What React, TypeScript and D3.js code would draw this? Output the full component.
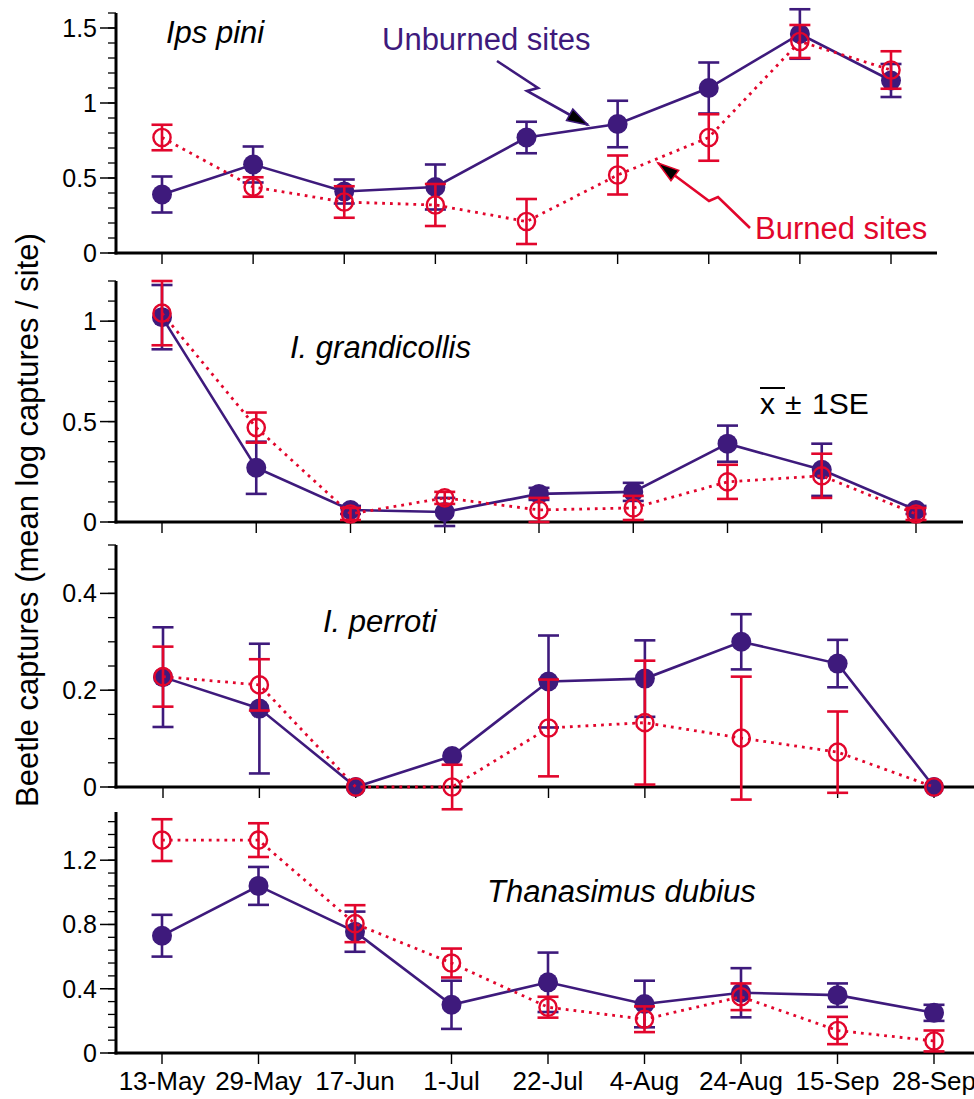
import React from 'react'
import * as d3 from 'd3'

// sampling dates (x categories)
const dates = ['13-May', '29-May', '17-Jun', '1-Jul', '22-Jul', '4-Aug', '24-Aug', '15-Sep', '28-Sep']

// Ips pini
const ipsUnburned = [0.39, 0.59, 0.41, 0.44, 0.77, 0.86, 1.1, 1.46, 1.15]
const ipsUnburnedSE = [0.12, 0.12, 0.08, 0.15, 0.105, 0.155, 0.17, 0.165, 0.11]
const ipsBurned = [0.77, 0.44, 0.34, 0.32, 0.21, 0.52, 0.77, 1.41, 1.22]
const ipsBurnedSE = [0.085, 0.065, 0.105, 0.14, 0.15, 0.13, 0.155, 0.11, 0.125]
const ipsTicks = [0, 0.5, 1, 1.5]

// I. grandicollis
const grandUnburned = [1.02, 0.27, 0.06, 0.05, 0.14, 0.15, 0.39, 0.26, 0.06]
const grandUnburnedSE = [0.16, 0.13, 0.02, 0.07, 0.03, 0.045, 0.09, 0.13, 0.02]
const grandBurned = [1.04, 0.47, 0.04, 0.12, 0.06, 0.07, 0.2, 0.23, 0.04]
const grandBurnedSE = [0.16, 0.075, 0.03, 0.03, 0.06, 0.06, 0.085, 0.11, 0.03]
const grandTicks = [0, 0.5, 1]

// I. perroti
const perrUnburned = [0.227, 0.162, 0, 0.064, 0.218, 0.224, 0.3, 0.255, 0]
const perrUnburnedSE = [0.103, 0.134, 0, 0, 0.095, 0.079, 0.057, 0.049, 0]
const perrBurned = [0.228, 0.211, 0, 0, 0.122, 0.133, 0.101, 0.072, 0]
const perrBurnedSE = [0.062, 0.053, 0, 0.046, 0.1, 0.128, 0.127, 0.084, 0]
const perrTicks = [0, 0.2, 0.4]

// Thanasimus dubius
const thanUnburned = [0.73, 1.04, 0.755, 0.3, 0.44, 0.305, 0.375, 0.36, 0.25]
const thanUnburnedSE = [0.13, 0.118, 0.125, 0.15, 0.185, 0.145, 0.153, 0.073, 0.05]
const thanBurned = [1.325, 1.325, 0.805, 0.56, 0.285, 0.21, 0.35, 0.14, 0.075]
const thanBurnedSE = [0.13, 0.105, 0.115, 0.09, 0.065, 0.08, 0.083, 0.085, 0.065]
const thanTicks = [0, 0.4, 0.8, 1.2]

const PURPLE = '#3e1a7c'
const RED = '#e2062c'
const FONT = '"Liberation Sans", Arial, Helvetica, sans-serif'
const AXIS_X = 116

// each panel is drawn a little wider than the one above it
const panels = [
  { label: 'Ips pini', unb: ipsUnburned, unbSE: ipsUnburnedSE, bur: ipsBurned, burSE: ipsBurnedSE,
    ticks: ipsTicks, max: 1.6, step: 0.1, top: 13, bottom: 253, xr: [162, 891], axisEnd: 937, lx: 166, ly: 43 },
  { label: 'I. grandicollis', unb: grandUnburned, unbSE: grandUnburnedSE, bur: grandBurned, burSE: grandBurnedSE,
    ticks: grandTicks, max: 1.2, step: 0.1, top: 281, bottom: 522, xr: [162, 916], axisEnd: 963, lx: 290, ly: 358 },
  { label: 'I. perroti', unb: perrUnburned, unbSE: perrUnburnedSE, bur: perrBurned, burSE: perrBurnedSE,
    ticks: perrTicks, max: 0.5, step: 0.05, top: 545, bottom: 787, xr: [163, 934], axisEnd: 980, lx: 323, ly: 632 },
  { label: 'Thanasimus dubius', unb: thanUnburned, unbSE: thanUnburnedSE, bur: thanBurned, burSE: thanBurnedSE,
    ticks: thanTicks, max: 1.5, step: 0.08, top: 812, bottom: 1053, xr: [162, 934], axisEnd: 980, lx: 487, ly: 902 },
]

function ErrorBars({ vals, se, x, y, color }) {
  return (
    <g stroke={color} strokeWidth={2.6}>
      {vals.map((v, i) => {
        if (!se[i]) return null
        const cx = x(dates[i])
        const y1 = y(v - se[i])
        const y2 = y(v + se[i])
        return (
          <g key={i}>
            <line x1={cx} x2={cx} y1={y1} y2={y2} />
            <line x1={cx - 10.5} x2={cx + 10.5} y1={y1} y2={y1} />
            <line x1={cx - 10.5} x2={cx + 10.5} y1={y2} y2={y2} />
          </g>
        )
      })}
    </g>
  )
}

function Panel({ p, last }) {
  const x = d3.scalePoint<string>().domain(dates).range(p.xr)
  const y = d3.scaleLinear().domain([0, p.max]).range([p.bottom, p.top])
  const minor = d3.range(0, p.max + 1e-6, p.step)
  const line = d3.line<number>().x((_, i) => x(dates[i])).y(d => y(d))

  return (
    <g>
      {/* axes */}
      <g stroke="#000">
        {minor.map((t, i) => (
          <line key={i} x1={AXIS_X - 8} x2={AXIS_X} y1={y(t)} y2={y(t)} strokeWidth={1.3} />
        ))}
        {p.ticks.map(t => (
          <line key={t} x1={AXIS_X - 16} x2={AXIS_X} y1={y(t)} y2={y(t)} strokeWidth={1.5} />
        ))}
        {dates.map(d => (
          <line key={d} x1={x(d)} x2={x(d)} y1={p.bottom} y2={p.bottom + 11} strokeWidth={1.4} />
        ))}
        <line x1={AXIS_X} x2={AXIS_X} y1={p.top} y2={p.bottom + 1.5} strokeWidth={3} />
        <line x1={AXIS_X - 1.5} x2={p.axisEnd} y1={p.bottom} y2={p.bottom} strokeWidth={3} />
      </g>
      <g fontFamily={FONT} fontSize={25} textAnchor="end">
        {p.ticks.map(t => (
          <text key={t} x={97} y={y(t)} dy="0.36em">{d3.format('~g')(t)}</text>
        ))}
      </g>
      <text x={p.lx} y={p.ly} fontFamily={FONT} fontSize={31} fontStyle="italic">{p.label}</text>

      {/* unburned */}
      <path d={line(p.unb)} fill="none" stroke={PURPLE} strokeWidth={2.6} />
      <ErrorBars vals={p.unb} se={p.unbSE} x={x} y={y} color={PURPLE} />
      {p.unb.map((v, i) => (
        <circle key={i} cx={x(dates[i])} cy={y(v)} r={10} fill={PURPLE} />
      ))}

      {/* burned */}
      <path d={line(p.bur)} fill="none" stroke={RED} strokeWidth={2.8} strokeDasharray="2.8 5" />
      <ErrorBars vals={p.bur} se={p.burSE} x={x} y={y} color={RED} />
      {p.bur.map((v, i) => (
        <circle key={i} cx={x(dates[i])} cy={y(v)} r={8.6} fill="none" stroke={RED} strokeWidth={2.4} />
      ))}

      {last && (
        <g fontFamily={FONT} fontSize={26} textAnchor="middle">
          {dates.map(d => (
            <text key={d} x={x(d)} y={1090}>{d}</text>
          ))}
        </g>
      )}
    </g>
  )
}

function Arrow({ pts, color }) {
  const n = pts.length
  const [tx, ty] = pts[n - 1]
  const [sx, sy] = pts[n - 2]
  const a = Math.atan2(ty - sy, tx - sx)
  const len = 21
  const w = 6.5
  const bx = tx - len * Math.cos(a)
  const by = ty - len * Math.sin(a)
  const head = [
    [tx, ty],
    [bx + w * Math.sin(a), by - w * Math.cos(a)],
    [bx - w * Math.sin(a), by + w * Math.cos(a)],
  ]
  return (
    <g>
      <polyline points={pts.map(q => q.join(',')).join(' ')} fill="none" stroke={color} strokeWidth={2.6} />
      <polygon points={head.map(q => q.join(',')).join(' ')} fill="#000" stroke={color} strokeWidth={1.5} />
    </g>
  )
}

export default function App() {
  return (
    <svg width={974} height={1099} style={{ position: 'absolute', left: 0, top: 0, background: '#fff' }}>
      {panels.map((p, i) => (
        <Panel key={p.label} p={p} last={i === panels.length - 1} />
      ))}

      <text x={382} y={50} fontFamily={FONT} fontSize={31} fill={PURPLE}>Unburned sites</text>
      <Arrow pts={[[497, 61], [538, 88], [527, 91], [588, 125]]} color={PURPLE} />
      <text x={755} y={239} fontFamily={FONT} fontSize={31} fill={RED}>Burned sites</text>
      <Arrow pts={[[750, 228], [718, 197], [709, 201], [658, 163]]} color={RED} />

      <g fontFamily={FONT} fontSize={30}>
        <text x={760} y={414}>x</text>
        <line x1={760} x2={785} y1={388} y2={388} stroke="#000" strokeWidth={2} />
        <text x={785} y={414}>±</text>
        <text x={812} y={414}>1SE</text>
      </g>

      <text transform="translate(38,520) rotate(-90)" fontFamily={FONT} fontSize={31} textAnchor="middle">
        Beetle captures (mean log captures / site)
      </text>
    </svg>
  )
}
